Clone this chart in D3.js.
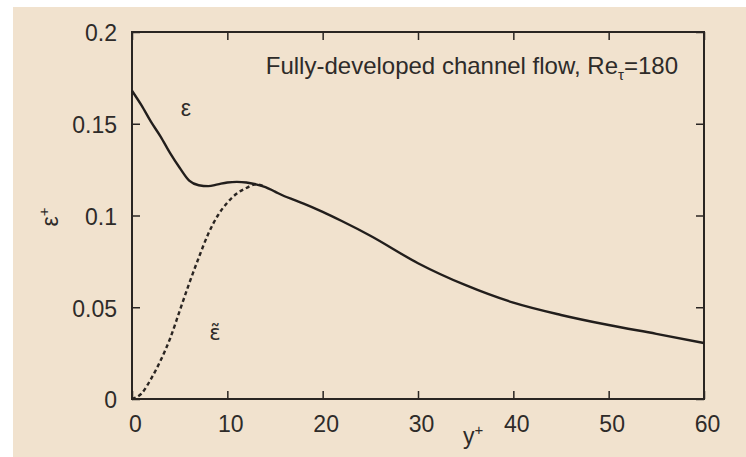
<!DOCTYPE html>
<html><head><meta charset="utf-8">
<script src="https://cdn.jsdelivr.net/npm/d3@7"></script>
<style>
html,body{margin:0;padding:0;background:#fff;}
svg{display:block;}
text{font-family:"Liberation Sans",Arial,Helvetica,sans-serif;fill:#2e2b29;}
</style></head>
<body>
<svg id="c" width="746" height="457"></svg>
<script>
// Data
const xTicks = [0, 10, 20, 30, 40, 50, 60];
const yTicks = [0, 0.05, 0.1, 0.15, 0.2];
const yTickLabels = ["0", "0.05", "0.1", "0.15", "0.2"];
// total dissipation epsilon+
const yPlusEps = [0, 1, 2, 3, 4, 5, 6, 7, 8, 9, 10, 11, 12, 13, 14, 15, 16, 17, 18, 20, 22, 25, 30, 35, 40, 45, 50, 55, 60];
const epsVals  = [0.168, 0.160, 0.151, 0.143, 0.134, 0.126, 0.119, 0.1165, 0.116, 0.117, 0.118, 0.1183, 0.118, 0.117, 0.1155, 0.113, 0.1105, 0.1085, 0.1065, 0.102, 0.097, 0.089, 0.074, 0.062, 0.0525, 0.0458, 0.0403, 0.0355, 0.0305];
// homogeneous dissipation epsilon-tilde
const yPlusTilde = [0, 1, 2, 3, 4, 5, 6, 7, 8, 9, 10, 11, 12, 13, 14];
const epsTildeVals = [0, 0.003, 0.011, 0.021, 0.033, 0.048, 0.063, 0.077, 0.090, 0.100, 0.107, 0.112, 0.115, 0.117, 0.1155];

const W = 746, H = 457;
const m = {left:132, right:704, top:32, bottom:399};
const svg = d3.select("#c");

// backgrounds
svg.append("rect").attr("x",0).attr("y",0).attr("width",W).attr("height",H).attr("fill","#ffffff");
svg.append("rect").attr("x",13).attr("y",7).attr("width",W-13).attr("height",H-7).attr("fill","#f1e2ce");

const x = d3.scaleLinear().domain([0,60]).range([m.left, m.right]);
const y = d3.scaleLinear().domain([0,0.2]).range([m.bottom, m.top]);

const tickLen = 8;
const axColor = "#2a2522";
const fs = "23px";

function styleAxis(g){
  g.select(".domain").remove();
  g.selectAll(".tick line").attr("stroke", axColor).attr("stroke-width",1.5);
  g.selectAll(".tick text").attr("fill","#2e2b29").style("font-size",fs).attr("font-family",null);
}

const gb = svg.append("g").attr("transform",`translate(0,${m.bottom})`)
  .call(d3.axisBottom(x).tickValues(xTicks).tickSize(-tickLen).tickPadding(17).tickFormat(d3.format("d")));
styleAxis(gb);
gb.selectAll(".tick text").attr("dx", 3);

const gt = svg.append("g").attr("transform",`translate(0,${m.top})`)
  .call(d3.axisTop(x).tickValues(xTicks).tickSize(-tickLen).tickFormat(""));
styleAxis(gt);

const gl = svg.append("g").attr("transform",`translate(${m.left},0)`)
  .call(d3.axisLeft(y).tickValues(yTicks).tickSize(-tickLen).tickPadding(15)
    .tickFormat((d,i)=>yTickLabels[i]));
styleAxis(gl);
gl.selectAll(".tick text").attr("dy","0.38em");

const gr = svg.append("g").attr("transform",`translate(${m.right},0)`)
  .call(d3.axisRight(y).tickValues(yTicks).tickSize(-tickLen).tickFormat(""));
styleAxis(gr);

// frame
svg.append("rect").attr("x",m.left).attr("y",m.top)
  .attr("width",m.right-m.left).attr("height",m.bottom-m.top)
  .attr("fill","none").attr("stroke",axColor).attr("stroke-width",2);

const line = d3.line().x(d=>x(d[0])).y(d=>y(d[1])).curve(d3.curveMonotoneX);

svg.append("path").datum(yPlusTilde.map((v,i)=>[v, epsTildeVals[i]]))
  .attr("d", line).attr("fill","none").attr("stroke","#2a2522")
  .attr("stroke-width",2.4).attr("stroke-dasharray","4,3");

svg.append("path").datum(yPlusEps.map((v,i)=>[v, epsVals[i]]))
  .attr("d", line).attr("fill","none").attr("stroke","#221e1c")
  .attr("stroke-width",2.4);

// title
const t = svg.append("text").attr("x",678).attr("y",74).attr("text-anchor","end").style("font-size","24px");
t.append("tspan").text("Fully-developed channel flow, Re");
t.append("tspan").attr("dy",6).style("font-size","15px").text("τ");
t.append("tspan").attr("dy",-6).text("=180");

// curve labels
svg.append("text").attr("x",186).attr("y",116).attr("text-anchor","middle").style("font-size","23px").text("ε");
svg.append("text").attr("x",215).attr("y",340).attr("text-anchor","middle")
  .style("font-family","'DejaVu Sans',sans-serif").style("font-size","21px").text("ε\u0303");

// axis titles
const yl = svg.append("text").attr("transform","translate(58,217) rotate(-90)").attr("text-anchor","middle").style("font-size","23px");
yl.append("tspan").text("ε");
yl.append("tspan").attr("dy",-9).style("font-size","15px").text("+");

const xl = svg.append("text").attr("x",463).attr("y",444).style("font-size","23px");
xl.append("tspan").text("y");
xl.append("tspan").attr("dy",-9).style("font-size","15px").text("+");
</script>
</body></html>
